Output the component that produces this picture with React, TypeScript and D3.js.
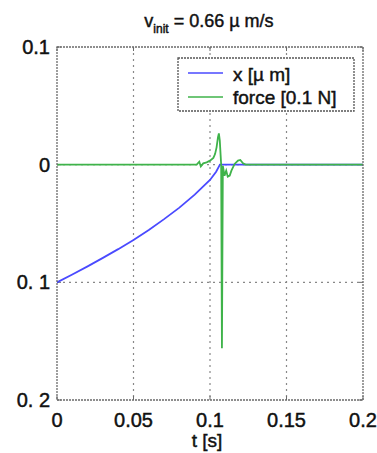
import React from "react";
import * as d3 from "d3";

const xTicks = [0, 0.05, 0.1, 0.15, 0.2];
const xTickLabels = ["0", "0.05", "0.1", "0.15", "0.2"];
const yTicks = [0.1, 0, -0.1, -0.2];
const yTickLabels = ["0.1", "0", "0. 1", "0. 2"];

const posTime = [0, 0.01, 0.02, 0.03, 0.04, 0.05, 0.06, 0.07, 0.08, 0.09, 0.1, 0.104, 0.1065, 0.2];
const posValues = [-0.1, -0.0933, -0.0864, -0.0792, -0.0718, -0.064, -0.0555, -0.0463, -0.0365, -0.0255, -0.013, -0.006, 0, 0];

const forceTime = [0, 0.0913, 0.093, 0.094, 0.0956, 0.0978, 0.1, 0.1022, 0.1033, 0.1043, 0.1052, 0.1058, 0.1064, 0.1069, 0.1073, 0.1078, 0.1084, 0.1095, 0.1106, 0.1116, 0.1129, 0.114, 0.1161, 0.1183, 0.1198, 0.1216, 0.1233, 0.2];
const forceValues = [0, 0, 0.0025, -0.0015, 0.0011, 0.002, 0.0034, 0.0057, 0.009, 0.0147, 0.0232, 0.0266, 0.0204, 0.009, 0, -0.156, -0.001, -0.0093, -0.0051, -0.0102, -0.0093, -0.0051, 0.0006, 0.0034, 0.004, 0.0011, 0, 0];

const legendLabels = ["x [µ m]", "force [0.1 N]"];
const seriesColors = ["#4a4aff", "#3fb34a"];

export default function App() {
  const W = 377, H = 453;
  const left = 57, right = 363, top = 47, bottom = 400;
  const x = d3.scaleLinear().domain([0, 0.2]).range([left, right]);
  const y = d3.scaleLinear().domain([-0.2, 0.1]).range([bottom, top]);
  const line = d3.line<[number, number]>().x(d => x(d[0])).y(d => y(d[1]));
  const posPts = posTime.map((t, i) => [t, posValues[i]] as [number, number]);
  const forcePts = forceTime.map((t, i) => [t, forceValues[i]] as [number, number]);
  const font = "'Liberation Sans', Arial, sans-serif";
  const frameStroke = "#6a6a6a";
  const txt = { fontFamily: font, fill: "#111", stroke: "#111", strokeWidth: 0.45 } as any;
  return (
    <svg width={W} height={H} style={{ position: "absolute", left: 0, top: 0, background: "#fff" }}>
      <rect x={0} y={0} width={W} height={H} fill="#fff" />
      {xTicks.slice(1, -1).map((t, i) => (
        <line key={"gx" + i} x1={x(t)} x2={x(t)} y1={top} y2={bottom} stroke="#888" strokeWidth={1.2} strokeDasharray="2,4" />
      ))}
      {yTicks.slice(1, -1).map((t, i) => (
        <line key={"gy" + i} x1={left} x2={right} y1={y(t)} y2={y(t)} stroke="#888" strokeWidth={1.2} strokeDasharray="2,4" />
      ))}
      {xTicks.map((t, i) => (
        <g key={"tx" + i}>
          <line x1={x(t)} x2={x(t)} y1={bottom} y2={bottom - 4} stroke={frameStroke} />
          <line x1={x(t)} x2={x(t)} y1={top} y2={top + 4} stroke={frameStroke} />
        </g>
      ))}
      {yTicks.map((t, i) => (
        <g key={"ty" + i}>
          <line x1={left} x2={left + 4} y1={y(t)} y2={y(t)} stroke={frameStroke} />
          <line x1={right} x2={right - 4} y1={y(t)} y2={y(t)} stroke={frameStroke} />
        </g>
      ))}
      <path d={line(posPts) || ""} fill="none" stroke={seriesColors[0]} strokeWidth={1.8} />
      <path d={line(forcePts) || ""} fill="none" stroke={seriesColors[1]} strokeWidth={1.8} />
      <rect x={left} y={top} width={right - left} height={bottom - top} fill="none" stroke={frameStroke} strokeWidth={1.3} strokeDasharray="2,1" />
      <rect x={178} y={58} width={176} height={53} fill="#fff" stroke="#555" strokeWidth={1.3} strokeDasharray="2,1" />
      {legendLabels.map((lab, i) => (
        <g key={"lg" + i}>
          <line x1={188} x2={223} y1={73 + i * 24} y2={73 + i * 24} stroke={seriesColors[i]} strokeWidth={1.5} />
          <text x={233} y={81 + i * 23} fontSize={19} {...txt}>{lab}</text>
        </g>
      ))}
      {xTicks.map((t, i) => (
        <text key={"lx" + i} x={x(t)} y={427} textAnchor="middle" fontSize={20} {...txt}>{xTickLabels[i]}</text>
      ))}
      {yTicks.map((t, i) => (
        <text key={"ly" + i} x={50} y={y(t) + 7} textAnchor="end" fontSize={20} {...txt}>{yTickLabels[i]}</text>
      ))}
      <text x={207} y={447} textAnchor="middle" fontSize={19} {...txt}>t [s]</text>
      <text x={209} y={27} textAnchor="middle" fontSize={18} {...txt}>
        v<tspan fontSize={12} dy={6}>init</tspan><tspan dy={-6}> = 0.66 µ m/s</tspan>
      </text>
    </svg>
  );
}
